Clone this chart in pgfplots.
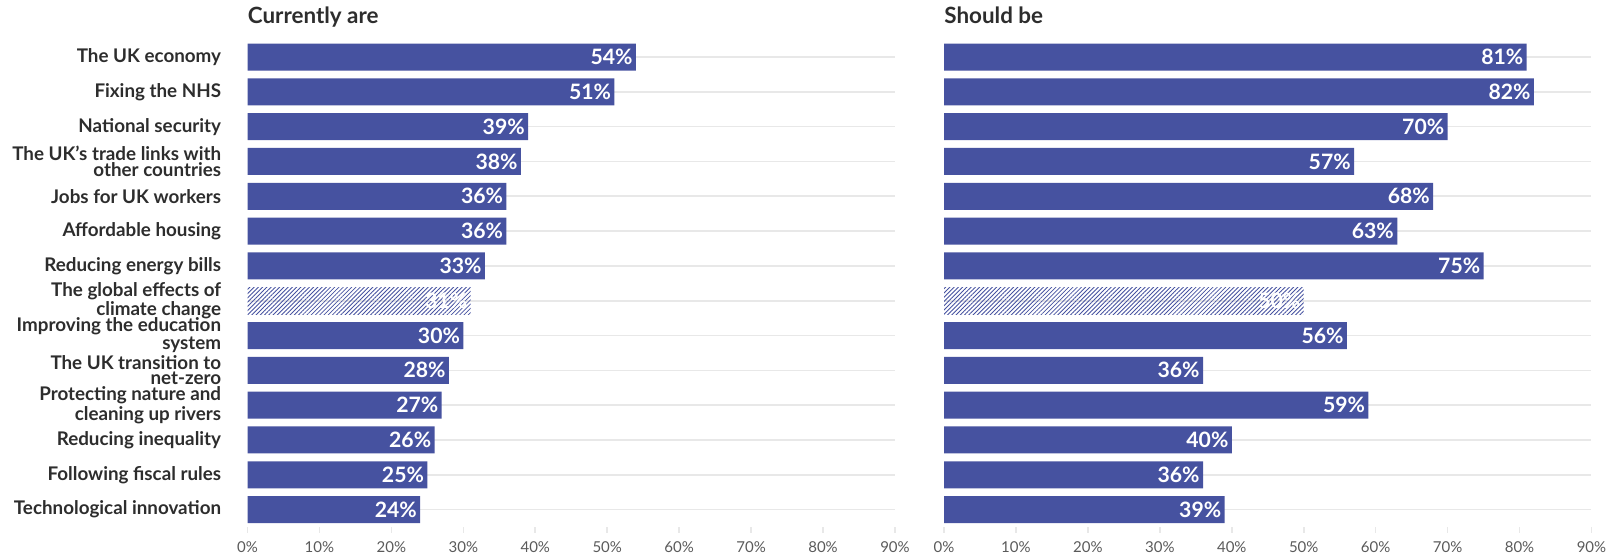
\documentclass[border=0pt]{standalone}
\usepackage{fontspec}
\setmainfont{Lato}
\usepackage{pgfplots}
\pgfplotsset{compat=1.18}
\usetikzlibrary{patterns.meta}
\definecolor{barblue}{RGB}{70,82,160}
\definecolor{labgrey}{RGB}{45,45,45}
\definecolor{tickgrey}{RGB}{90,90,90}
\definecolor{gridgrey}{RGB}{232,232,232}
\pgfplotsset{
 panel/.style={
  scale only axis, width=323.75pt, height=243.7pt,
  anchor=south west,
  xbar, bar width=13.5pt,
  xmin=0, xmax=90, ymin=-0.5, ymax=13.5,
  ytick={0,...,13}, xtick={0,10,...,90},
  xticklabels={0\%,10\%,20\%,30\%,40\%,50\%,60\%,70\%,80\%,90\%},
  axis line style={draw=none},
  ymajorgrids, grid style={gridgrey, line width=0.8pt},
  xtick pos=bottom, xtick align=outside,
  x tick style={gridgrey, line width=0.8pt}, major tick length=3pt,
  y tick style={draw=none},
  xticklabel style={font=\fontsize{7.5}{9}\selectfont, text=tickgrey, yshift=-1pt},
  /pgf/number format/assume math mode=true,
  nodes near coords={\pgfmathprintnumber{\pgfplotspointmeta}\%},
  point meta=x,
  every node near coord/.append style={anchor=east, text=white, font=\fontsize{10.6}{12}\selectfont\bfseries, xshift=-0.5pt, inner sep=1pt},
  clip=false,
 },
 hatch/.style={draw=none, bar shift=0pt, pattern={Lines[angle=45,distance=1.5pt,line width=0.42pt]}, pattern color=barblue},
 solid/.style={fill=barblue, draw=none, bar shift=0pt},
}
\begin{document}
\begin{tikzpicture}
\path[use as bounding box] (0,0) rectangle (808.5pt,277pt);
\begin{axis}[panel, at={(123.75pt,13.5pt)},
  yticklabels={Technological innovation, Following fiscal rules, Reducing inequality,
    {Protecting nature and\\cleaning up rivers}, {The UK transition to\\net-zero},
    {Improving the education\\system}, {The global effects of\\climate change},
    Reducing energy bills, Affordable housing, Jobs for UK workers,
    {The UK’s trade links with\\other countries}, National security, Fixing the NHS, The UK economy},
  yticklabel style={align=right, font=\fontsize{9.4}{6.3}\selectfont\bfseries, text=labgrey, inner sep=0pt, xshift=-10pt}]
\addplot[solid] coordinates {(54,13) (51,12) (39,11) (38,10) (36,9) (36,8) (33,7) (30,5) (28,4) (27,3) (26,2) (25,1) (24,0)};
\addplot[hatch] coordinates {(31,6)};
\node[anchor=base west, font=\fontsize{11.2}{12}\selectfont\bfseries, text=labgrey, inner sep=0pt] at ([yshift=8.3pt]rel axis cs:0,1) {Currently are};
\end{axis}
\begin{axis}[panel, at={(472pt,13.5pt)}, yticklabels={}]
\addplot[solid] coordinates {(81,13) (82,12) (70,11) (57,10) (68,9) (63,8) (75,7) (56,5) (36,4) (59,3) (40,2) (36,1) (39,0)};
\addplot[hatch] coordinates {(50,6)};
\node[anchor=base west, font=\fontsize{11.2}{12}\selectfont\bfseries, text=labgrey, inner sep=0pt] at ([yshift=8.3pt]rel axis cs:0,1) {Should be};
\end{axis}
\end{tikzpicture}
\end{document}
